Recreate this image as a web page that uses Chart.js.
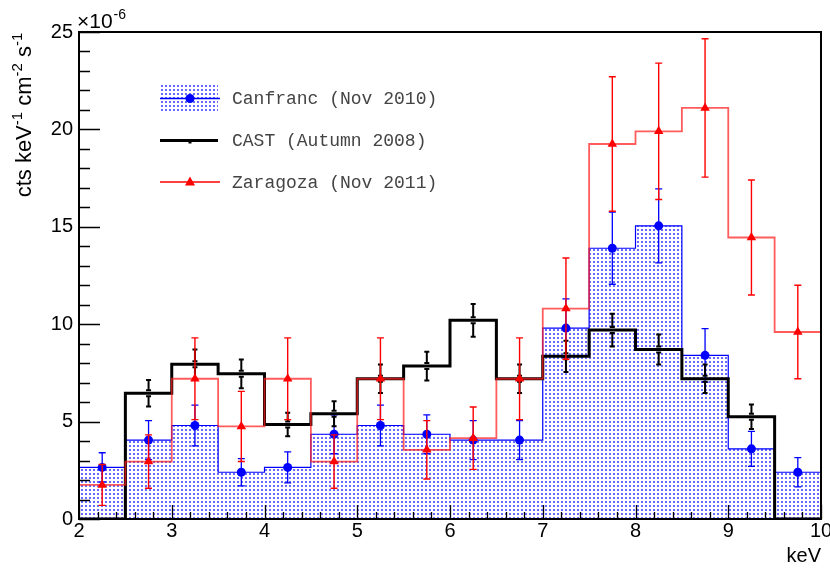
<!DOCTYPE html>
<html><head><meta charset="utf-8">
<script src="https://cdn.jsdelivr.net/npm/chart.js@4.4.1/dist/chart.umd.min.js"></script>
<style>html,body{margin:0;padding:0;background:#fff;}canvas{display:block;}</style>
</head><body>
<canvas id="c" width="830" height="572"></canvas>
<script>
// ---- data (values in units of 1e-6 cts keV^-1 cm^-2 s^-1) ----
const binEdges = [2,2.5,3,3.5,4,4.5,5,5.5,6,6.5,7,7.5,8,8.5,9,9.5,10];
const canfranc    = [2.65,4.05,4.8,2.4,2.65,4.35,4.8,4.35,4.05,4.05,9.8,13.9,15.05,8.4,3.6,2.4];
const canfrancErr = [0.75,1.0,1.05,0.7,0.8,1.0,1.05,1.0,1.0,1.0,1.5,1.85,1.9,1.37,0.9,0.75];
const cast        = [0,6.45,7.95,7.45,4.85,5.4,7.2,7.85,10.2,7.2,8.35,9.7,8.7,7.2,5.25,0];
const castErr     = [0,0.68,0.75,0.74,0.6,0.64,0.73,0.74,0.84,0.73,0.8,0.84,0.77,0.73,0.63,0];
const zaragoza    = [1.75,2.95,7.2,4.75,7.2,2.95,7.2,3.55,4.15,7.2,10.8,19.25,19.9,21.1,14.45,9.6];
const zaragozaErr = [1.05,1.37,2.1,1.8,2.1,1.37,2.1,1.5,1.6,2.1,2.6,3.45,3.5,3.55,2.95,2.4];
const seriesNames = ['Canfranc (Nov 2010)','CAST (Autumn 2008)','Zaragoza (Nov 2011)'];
const xRange = [2,10];
const yRange = [0,25];
const xMajorStep = 1, xMinorStep = 0.2, yMajorStep = 5, yMinorStep = 1;
const yExponent = '-6';
const xTitle = 'keV';

// ---- helpers ----
function histPoints(vals){
  const pts=[{x:binEdges[0],y:0}];
  vals.forEach((v,i)=>{pts.push({x:binEdges[i],y:v});pts.push({x:binEdges[i+1],y:v});});
  pts.push({x:binEdges[binEdges.length-1],y:0});
  return pts;
}
function centerPoints(vals, errs){
  return vals.map((v,i)=>({x:(binEdges[i]+binEdges[i+1])/2, y:(errs[i]>0?v:null)}));
}
const pc=document.createElement('canvas');pc.width=4;pc.height=4;
const pcx=pc.getContext('2d');
pcx.fillStyle='rgb(105,105,255)';pcx.fillRect(1,1,2,2);
const ctx0=document.getElementById('c').getContext('2d');
const bluePattern=ctx0.createPattern(pc,'repeat');

const BLUE='#0000ff', RED='#ff0000', REDLINE='rgba(255,30,30,0.72)';

// ---- plugins ----
const errorBars={
  id:'errorBars',
  beforeDatasetDraw(chart,args){
    const ds=chart.data.datasets[args.index];
    if(!ds.errors) return;
    const {ctx,scales:{x,y}}=chart;
    ctx.save();
    ctx.strokeStyle=ds.errColor; ctx.lineWidth=ds.errWidth;
    ds.data.forEach((p,i)=>{
      if(p.y===null) return;
      const e=ds.errors[i];
      const px=x.getPixelForValue(p.x), py=y.getPixelForValue(p.y);
      const yt=y.getPixelForValue(p.y+e), yb=y.getPixelForValue(Math.max(p.y-e,0));
      const g=ds.errGap||0, c=ds.capHalf;
      ctx.beginPath();
      ctx.moveTo(px,yt);ctx.lineTo(px,py-g);
      ctx.moveTo(px,py+g);ctx.lineTo(px,yb);
      ctx.moveTo(px-c,yt);ctx.lineTo(px+c,yt);
      ctx.moveTo(px-c,yb);ctx.lineTo(px+c,yb);
      if(g>0){
        ctx.moveTo(px-c,py-g);ctx.lineTo(px+c,py-g);
        ctx.moveTo(px-c,py+g);ctx.lineTo(px+c,py+g);
      }
      ctx.stroke();
    });
    ctx.restore();
  }
};

const frameAndText={
  id:'frameAndText',
  afterDatasetsDraw(chart){
    const {ctx,chartArea:a,scales:{x,y}}=chart;
    ctx.save();
    ctx.strokeStyle='#000';
    ctx.lineWidth=1.3;
    ctx.beginPath();
    for(let v=xRange[0];v<=xRange[1]+1e-9;v+=xMinorStep){
      const px=Math.round(x.getPixelForValue(v))+0.5;
      const major=Math.abs(v-Math.round(v/xMajorStep)*xMajorStep)<1e-6;
      ctx.moveTo(px,a.bottom);ctx.lineTo(px,a.bottom-(major?14:7));
    }
    for(let v=yRange[0];v<=yRange[1]+1e-9;v+=yMinorStep){
      const py=Math.round(y.getPixelForValue(v))+0.5;
      const major=Math.abs(v-Math.round(v/yMajorStep)*yMajorStep)<1e-6;
      ctx.moveTo(a.left,py);ctx.lineTo(a.left+(major?21:11),py);
    }
    ctx.stroke();
    ctx.lineWidth=2;
    ctx.strokeRect(a.left,a.top,a.right-a.left,a.bottom-a.top);
    ctx.restore();
  },
  afterDraw(chart){
    const {ctx,chartArea:a}=chart;
    ctx.save();
    ctx.fillStyle='#000';
    ctx.font='21px "Liberation Sans"';ctx.textBaseline='alphabetic';ctx.textAlign='left';
    ctx.fillText('\u00d710',a.left-2,28);
    const w=ctx.measureText('\u00d710').width;
    ctx.font='14px "Liberation Sans"';
    ctx.fillText(yExponent,a.left-2+w+1,19);
    // y title with superscripts
    const parts=[['cts keV',0],['-1',1],[' cm',0],['-2',1],[' s',0],['-1',1]];
    const big='22px "Liberation Sans"', small='15px "Liberation Sans"';
    let total=0;
    parts.forEach(p=>{ctx.font=p[1]?small:big;total+=ctx.measureText(p[0]).width;});
    ctx.translate(31,115);ctx.rotate(-Math.PI/2);
    let cx=-total/2;
    parts.forEach(p=>{
      ctx.font=p[1]?small:big;
      ctx.fillText(p[0],cx,p[1]?-9:0);
      cx+=ctx.measureText(p[0]).width;
    });
    ctx.restore();
    // legend
    ctx.save();
    const rows=[98.5,140.5,182];
    const x0=160,x1=220,xm=190;
    ctx.fillStyle=bluePattern;ctx.fillRect(x0,84,x1-x0-2,29);
    ctx.strokeStyle=BLUE;ctx.lineWidth=1.3;
    ctx.beginPath();ctx.moveTo(x0,rows[0]);ctx.lineTo(x1,rows[0]);ctx.stroke();
    ctx.fillStyle=BLUE;ctx.beginPath();ctx.arc(xm,rows[0],4.5,0,Math.PI*2);ctx.fill();
    ctx.strokeStyle='#000';ctx.lineWidth=3;
    ctx.beginPath();ctx.moveTo(x0,rows[1]);ctx.lineTo(x1-2,rows[1]);ctx.stroke();
    ctx.fillStyle='#000';ctx.fillRect(xm-1.5,rows[1],3,3);
    ctx.strokeStyle=RED;ctx.lineWidth=1.3;
    ctx.beginPath();ctx.moveTo(x0,rows[2]);ctx.lineTo(x1,rows[2]);ctx.stroke();
    ctx.fillStyle=RED;ctx.beginPath();ctx.moveTo(xm,rows[2]-5.5);ctx.lineTo(xm+5,rows[2]+3.5);ctx.lineTo(xm-5,rows[2]+3.5);ctx.closePath();ctx.fill();
    ctx.fillStyle='#444';ctx.font='18px "Liberation Mono"';ctx.textBaseline='middle';ctx.textAlign='left';
    seriesNames.forEach((n,i)=>ctx.fillText(n,232,rows[i]+1));
    ctx.restore();
  }
};

Chart.defaults.font.family='"Liberation Sans", Arial, sans-serif';
Chart.defaults.color='#000';

new Chart(document.getElementById('c'),{
  type:'line',
  data:{datasets:[
    {label:seriesNames[2]+' errors',data:centerPoints(zaragoza,zaragozaErr),errors:zaragozaErr,errColor:RED,errWidth:1.4,capHalf:3.5,
     showLine:false,pointStyle:'triangle',pointRadius:5.5,pointBackgroundColor:RED,pointBorderColor:RED,pointBorderWidth:0,order:0},
    {label:seriesNames[2],data:histPoints(zaragoza),borderColor:REDLINE,borderWidth:1.8,pointRadius:0,fill:false,order:1},
    {label:seriesNames[1]+' errors',data:centerPoints(cast,castErr),errors:castErr,errColor:'#000',errWidth:2,capHalf:2.5,errGap:3,
     showLine:false,pointStyle:'rect',pointRadius:1,pointBackgroundColor:'#000',pointBorderWidth:0,order:2},
    {label:seriesNames[1],data:histPoints(cast),borderColor:'#000',borderWidth:3,pointRadius:0,fill:false,order:3},
    {label:seriesNames[0]+' errors',data:centerPoints(canfranc,canfrancErr),errors:canfrancErr,errColor:BLUE,errWidth:1.3,capHalf:3.5,
     showLine:false,pointStyle:'circle',pointRadius:4.5,pointBackgroundColor:BLUE,pointBorderColor:BLUE,pointBorderWidth:0,order:4},
    {label:seriesNames[0],data:histPoints(canfranc),borderColor:BLUE,borderWidth:1.2,backgroundColor:bluePattern,pointRadius:0,fill:'origin',order:5}
  ]},
  options:{
    responsive:false,animation:false,
    layout:{padding:{left:0,right:9,top:32,bottom:0}},
    plugins:{legend:{display:false},tooltip:{enabled:false}},
    scales:{
      x:{type:'linear',min:xRange[0],max:xRange[1],
         ticks:{stepSize:xMajorStep,font:{size:20},padding:0,maxRotation:0,autoSkip:false},
         grid:{display:false,drawTicks:false},border:{display:false},
         title:{display:true,text:xTitle,align:'end',font:{size:20},padding:{top:0,bottom:4}},
         afterFit(s){s.height=53;s.paddingLeft=0;s.paddingRight=0;}},
      y:{type:'linear',min:yRange[0],max:yRange[1],
         ticks:{stepSize:yMajorStep,font:{size:20},padding:6},
         grid:{display:false,drawTicks:false},border:{display:false},
         afterFit(s){s.width=79;s.paddingTop=0;s.paddingBottom=0;}}
    }
  },
  plugins:[errorBars,frameAndText]
});
</script>
</body></html>
